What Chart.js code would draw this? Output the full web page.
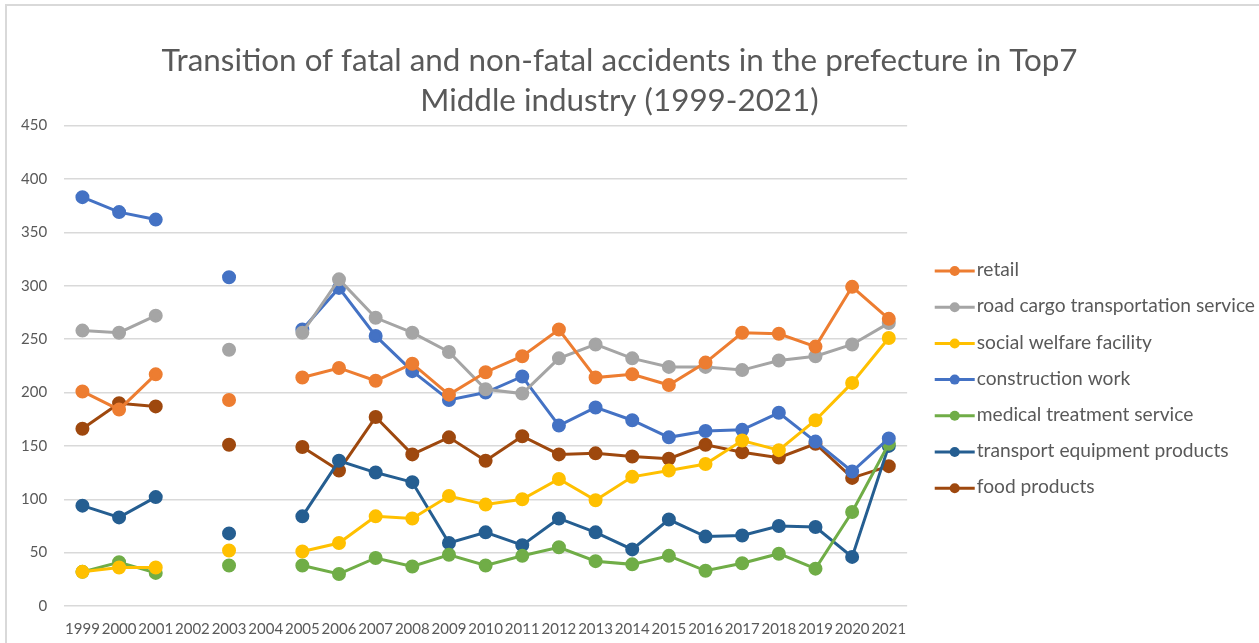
<!DOCTYPE html>
<html>
<head>
<meta charset="utf-8">
<script src="https://cdn.jsdelivr.net/npm/chart.js@4.4.0/dist/chart.umd.min.js"></script>
<style>
  html, body { margin: 0; padding: 0; background: #fff; }
  #wrap { position: relative; width: 1259px; height: 643px; }
  #frame { position: absolute; left: 5px; top: 4px; right: -10px; bottom: -10px;
           border-left: 2px solid #d9d9d9; border-top: 2px solid #d9d9d9; pointer-events: none; }
</style>
</head>
<body>
<div id="wrap"><canvas id="accChart"></canvas><div id="frame"></div></div>
<script>
// Years (2002 and 2004 have no data)
const years = ['1999','2000','2001','2002','2003','2004','2005','2006','2007','2008','2009','2010',
  '2011','2012','2013','2014','2015','2016','2017','2018','2019','2020','2021'];

const retail = [201,184,217,null,193,null,214,223,211,227,198,219,234,259,214,217,207,228,256,255,243,299,269];
const roadCargo = [258,256,272,null,240,null,256,306,270,256,238,203,199,232,245,232,224,224,221,230,234,245,265];
const socialWelfare = [32,36,36,null,52,null,51,59,84,82,103,95,100,119,99,121,127,133,155,146,174,209,251];
const construction = [383,369,362,null,308,null,259,298,253,220,193,200,215,169,186,174,158,164,165,181,154,126,157];
const medical = [32,41,31,null,38,null,38,30,45,37,48,38,47,55,42,39,47,33,40,49,35,88,152];
const transportEquip = [94,83,102,null,68,null,84,136,125,116,59,69,57,82,69,53,81,65,66,75,74,46,150];
const food = [166,190,187,null,151,null,149,127,177,142,158,136,159,142,143,140,138,151,144,139,152,120,131];

const yTicks = [0, 50, 100, 150, 200, 250, 300, 350, 400, 450];

const series = [
  { label: 'retail', data: retail, color: '#ED7D31' },
  { label: 'road cargo transportation service', data: roadCargo, color: '#A5A5A5' },
  { label: 'social welfare facility', data: socialWelfare, color: '#FFC000' },
  { label: 'construction work', data: construction, color: '#4472C4' },
  { label: 'medical treatment service', data: medical, color: '#70AD47' },
  { label: 'transport equipment products', data: transportEquip, color: '#255E91' },
  { label: 'food products', data: food, color: '#9E480E' }
];

const legendFont = 19.2;

// legend marker: line with a dot, drawn over the (transparent) legend box
const legendMarkers = {
  id: 'legendMarkers',
  afterDraw(chart) {
    const lg = chart.legend;
    if (!lg || !lg.legendHitBoxes) return;
    const ctx = chart.ctx;
    const bw = lg.options.labels.boxWidth;
    lg.legendHitBoxes.forEach((hb, i) => {
      const color = chart.data.datasets[i].borderColor;
      const cy = hb.top + hb.height / 2 + 1;
      const x1 = hb.left + bw + legendFont / 2 - 2, x0 = x1 - 40;
      ctx.save();
      ctx.strokeStyle = color;
      ctx.fillStyle = color;
      ctx.lineWidth = 3;
      ctx.beginPath();
      ctx.moveTo(x0, cy);
      ctx.lineTo(x1, cy);
      ctx.stroke();
      ctx.beginPath();
      ctx.arc((x0 + x1) / 2, cy, 5, 0, Math.PI * 2);
      ctx.fill();
      ctx.restore();
    });
  }
};

// nudge the title so it is centred like the original
const titleShift = {
  id: 'titleShift',
  afterLayout(chart) {
    const t = chart.titleBlock;
    if (t) { t.left -= 15; t.right -= 15; }
  }
};

const ctx = document.getElementById('accChart').getContext('2d');
new Chart(ctx, {
  type: 'line',
  data: {
    labels: years,
    datasets: series.map(s => ({
      label: s.label,
      data: s.data,
      borderColor: s.color,
      backgroundColor: s.color,
      pointBackgroundColor: s.color,
      pointBorderColor: s.color,
      borderWidth: 3,
      pointRadius: 5.5,
      pointHoverRadius: 6,
      spanGaps: false,
      tension: 0
    }))
  },
  plugins: [legendMarkers, titleShift],
  options: {
    responsive: true,
    maintainAspectRatio: false,
    animation: false,
    layout: { padding: { left: 4, right: -6, top: 7, bottom: -1 } },
    plugins: {
      title: {
        display: true,
        text: ['Transition of fatal and non-fatal accidents in the prefecture in Top7', 'Middle industry (1999-2021)'],
        color: '#595959',
        font: { family: 'Lato', size: 31.4, weight: 'normal', lineHeight: 1.3 },
        padding: { top: 33, bottom: 4 }
      },
      legend: {
        position: 'right',
        align: 'center',
        fullSize: false,
        maxWidth: 420,
        title: { display: true, text: ' ', padding: 2, font: { family: 'Lato', size: 18 } },
        labels: {
          color: '#595959',
          font: { family: 'Lato', size: legendFont },
          boxWidth: 43,
          boxHeight: 3,
          padding: 17,
          generateLabels(chart) {
            return chart.data.datasets.map((d, i) => ({
              text: d.label,
              fillStyle: 'rgba(0,0,0,0)',
              strokeStyle: 'rgba(0,0,0,0)',
              lineWidth: 0,
              datasetIndex: i,
              fontColor: '#595959'
            }));
          }
        }
      },
      tooltip: { enabled: false }
    },
    scales: {
      x: {
        offset: true,
        grid: { display: false },
        border: { display: false },
        ticks: {
          color: '#595959',
          font: { family: 'Lato', size: 15 },
          maxRotation: 0,
          autoSkip: false,
          padding: 6
        }
      },
      y: {
        min: 0,
        max: 450,
        afterBuildTicks(axis) { axis.ticks = yTicks.map(v => ({ value: v })); },
        grid: { color: '#d9d9d9', lineWidth: 1.5, drawTicks: false },
        border: { display: false },
        ticks: {
          color: '#595959',
          font: { family: 'Lato', size: 15 },
          padding: 17
        }
      }
    }
  }
});
</script>
</body>
</html>
